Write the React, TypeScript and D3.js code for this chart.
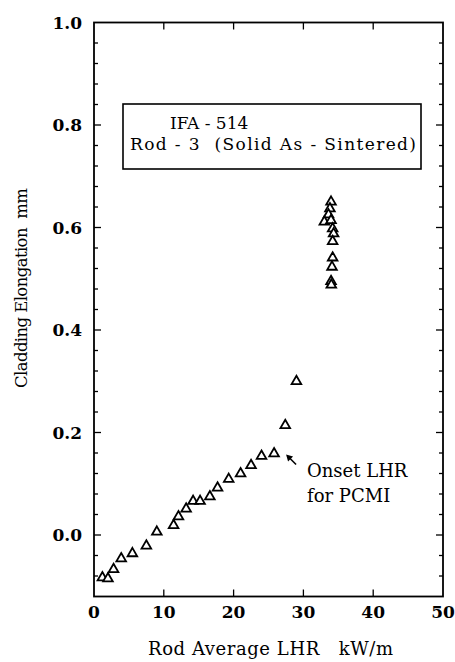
import { useEffect, useRef } from "react";
import * as d3 from "d3";

// rod average LHR (kW/m)
const lhr = [
  1.2, 2.0, 2.8, 3.9, 5.5, 7.5, 9.0, 11.4, 12.1, 13.2, 14.2, 15.2, 16.6, 17.7,
  19.3, 21.0, 22.5, 24.0, 25.8, 27.4, 29.0,
  33.96, 33.8, 33.6, 33.0, 33.96, 34.19, 34.33, 34.19, 34.19, 34.1, 33.96, 34.0,
];
// cladding elongation (mm)
const elong = [
  -0.083, -0.085, -0.067, -0.046, -0.036, -0.021, 0.006, 0.019, 0.036, 0.051,
  0.066, 0.066, 0.075, 0.092, 0.109, 0.12, 0.136, 0.154, 0.159, 0.214, 0.3,
  0.65, 0.637, 0.625, 0.611, 0.614, 0.598, 0.588, 0.573, 0.541, 0.523, 0.495,
  0.488,
];
const xTicks = [0, 10, 20, 30, 40, 50];
const yTicks = [0, 0.2, 0.4, 0.6, 0.8, 1.0];
const legendLines = ["IFA - 514", "Rod - 3  (Solid As - Sintered)"];
const noteLines = ["Onset LHR", "for PCMI"];

const W = 455;
const H = 662;
const FONT = "'DejaVu Serif', 'Liberation Serif', serif";

export default function App() {
  const ref = useRef<SVGSVGElement>(null);

  useEffect(() => {
    const svg = d3.select(ref.current);
    svg.selectAll("*").remove();

    const x = d3.scaleLinear().domain([0, 50]).range([94, 443]);
    const y = d3.scaleLinear().domain([-0.12, 1.0]).range([596.5, 22.5]);
    const [x0, x1] = x.range();
    const [y0, y1] = y.range();

    // frame
    svg
      .append("rect")
      .attr("x", x0)
      .attr("y", y1)
      .attr("width", x1 - x0)
      .attr("height", y0 - y1)
      .attr("fill", "none")
      .attr("stroke", "#000")
      .attr("stroke-width", 1.8);

    const g = svg.append("g").attr("stroke", "#000").attr("stroke-width", 1.3);

    // x ticks top and bottom (inward)
    const xt = xTicks.filter((t) => t > 0 && t < 50);
    xt.forEach((t) => {
      g.append("line").attr("x1", x(t)).attr("x2", x(t)).attr("y1", y0).attr("y2", y0 - 7);
      g.append("line").attr("x1", x(t)).attr("x2", x(t)).attr("y1", y1).attr("y2", y1 + 7);
    });

    // y ticks left and right, minor every 0.04
    const minor = d3.range(-0.08, 1.0, 0.04).map((v) => Math.round(v * 100) / 100);
    minor.forEach((v) => {
      const major = yTicks.some((t) => Math.abs(t - v) < 1e-6);
      const len = major ? 7 : 4;
      g.append("line").attr("x1", x0).attr("x2", x0 + len).attr("y1", y(v)).attr("y2", y(v));
      g.append("line").attr("x1", x1).attr("x2", x1 - len).attr("y1", y(v)).attr("y2", y(v));
    });

    // tick labels
    svg
      .append("g")
      .selectAll("text")
      .data(xTicks)
      .join("text")
      .attr("x", (d) => x(d))
      .attr("y", 618)
      .attr("text-anchor", "middle")
      .attr("font-family", FONT)
      .attr("font-weight", "bold")
      .attr("font-size", 17)
      .text((d) => d);

    svg
      .append("g")
      .selectAll("text")
      .data(yTicks)
      .join("text")
      .attr("x", 82)
      .attr("y", (d) => y(d))
      .attr("dy", "0.36em")
      .attr("text-anchor", "end")
      .attr("font-family", FONT)
      .attr("font-weight", "bold")
      .attr("font-size", 17)
      .text((d) => d.toFixed(1));

    // axis titles
    svg
      .append("text")
      .attr("x", 148)
      .attr("y", 655)
      .attr("font-family", FONT)
      .attr("font-size", 18)
      .attr("textLength", 245)
      .attr("lengthAdjust", "spacing")
      .attr("xml:space", "preserve")
      .text("Rod Average LHR   kW/m");

    svg
      .append("text")
      .attr("transform", "translate(27,288) rotate(-90)")
      .attr("x", -100)
      .attr("font-family", FONT)
      .attr("font-size", 16.5)
      .attr("textLength", 200)
      .attr("lengthAdjust", "spacing")
      .attr("xml:space", "preserve")
      .text("Cladding Elongation  mm");

    // legend box
    svg
      .append("rect")
      .attr("x", 123)
      .attr("y", 104)
      .attr("width", 298)
      .attr("height", 65)
      .attr("fill", "#fff")
      .attr("stroke", "#000")
      .attr("stroke-width", 1.6);
    legendLines.forEach((s, i) => {
      const t = svg
        .append("text")
        .attr("x", i === 0 ? 170 : 130)
        .attr("y", 129 + i * 21)
        .attr("font-family", FONT)
        .attr("font-size", 17)
        .attr("xml:space", "preserve")
        .text(s);
      if (i === 1) t.attr("textLength", 286).attr("lengthAdjust", "spacing");
    });

    // points
    const tri = d3.symbol(d3.symbolTriangle, 40)();
    svg
      .append("g")
      .selectAll("path")
      .data(lhr.map((v, i) => [v, elong[i]]))
      .join("path")
      .attr("d", tri)
      .attr("transform", (d) => `translate(${x(d[0])},${y(d[1])})`)
      .attr("fill", "#fff")
      .attr("stroke", "#000")
      .attr("stroke-width", 1.8);

    // annotation arrow
    const ax = x(25.8) + 12;
    const ay = y(0.159) + 1;
    svg
      .append("line")
      .attr("x1", ax + 4)
      .attr("y1", ay + 4)
      .attr("x2", ax + 10)
      .attr("y2", ay + 10)
      .attr("stroke", "#000")
      .attr("stroke-width", 1.6);
    svg
      .append("path")
      .attr("d", `M${ax},${ay} L${ax + 7},${ay + 2} L${ax + 2},${ay + 7} Z`)
      .attr("fill", "#000");

    noteLines.forEach((s, i) => {
      svg
        .append("text")
        .attr("x", 307)
        .attr("y", 477 + i * 25)
        .attr("font-family", FONT)
        .attr("font-size", 18)
        .text(s);
    });
  }, []);

  return (
    <svg
      ref={ref}
      width={W}
      height={H}
      style={{ position: "absolute", left: 0, top: 0, background: "#fff" }}
    />
  );
}
